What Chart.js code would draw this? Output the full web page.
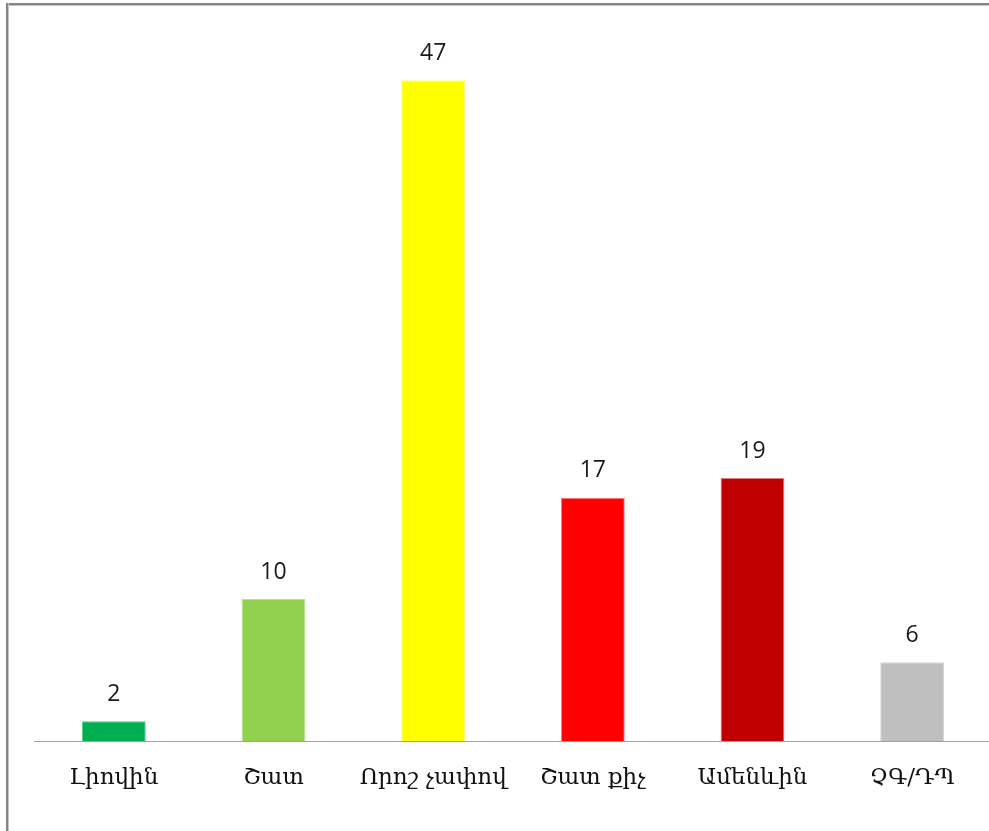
<!DOCTYPE html>
<html>
<head>
<meta charset="utf-8">
<script src="https://cdn.jsdelivr.net/npm/chart.js@4"></script>
<style>
  html, body { margin: 0; padding: 0; background: #fff; overflow: hidden; }
  #wrap { position: relative; width: 989px; height: 831px; overflow: hidden; }
  #lineTop { position: absolute; left: 6px; top: 3px; width: 990px; height: 2px; background: #858585; border-bottom: 1px solid #c4c4c4; }
  #lineLeft { position: absolute; left: 6px; top: 3px; width: 2px; height: 840px; background: #858585; border-right: 1px solid #c4c4c4; }
  #holder { position: absolute; left: 0; top: 0; width: 993px; height: 831px; }
</style>
</head>
<body>
<div id="wrap">
  <div id="holder"><canvas id="chart"></canvas></div>
  <div id="lineTop"></div>
  <div id="lineLeft"></div>
</div>
<script>
// categories and values (bar heights, labels as printed)
const categories = ["Լիովին", "Շատ", "Որոշ չափով", "Շատ քիչ", "Ամենևին", "ՉԳ/ԴՊ"];
const values = [1.4, 10.1, 47, 17.3, 18.7, 5.6];
const valueLabels = ["2", "10", "47", "17", "19", "6"];
const barColors = ["#00B050", "#92D050", "#FFFF00", "#FF0000", "#C00000", "#BFBFBF"];
const edgeColors = ["#4fcf86", "#b4e08a", "#ffff80", "#ff8080", "#e08080", "#d6d6d6"];

const valueLabelPlugin = {
    id: "valueLabels",
    afterDatasetsDraw(chart) {
        const ctx = chart.ctx;
        const meta = chart.getDatasetMeta(0);
        ctx.save();
        ctx.font = "23px 'Open Sans', sans-serif";
        ctx.fillStyle = "#1a1a1a";
        ctx.textAlign = "center";
        ctx.textBaseline = "middle";
        meta.data.forEach((bar, i) => {
            ctx.fillText(valueLabels[i], bar.x, bar.y - 27);
        });
        ctx.restore();
    }
};

const ctx = document.getElementById("chart").getContext("2d");
new Chart(ctx, {
    type: "bar",
    data: {
        labels: categories,
        datasets: [{
            data: values,
            backgroundColor: barColors,
            borderColor: edgeColors,
            borderWidth: 1,
            barPercentage: 0.4,
            categoryPercentage: 1
        }]
    },
    options: {
        responsive: true,
        maintainAspectRatio: false,
        animation: false,
        layout: { padding: { left: 34, right: 1, top: 38, bottom: 0 } },
        plugins: {
            legend: { display: false },
            tooltip: { enabled: false }
        },
        scales: {
            x: {
                grid: { display: false, drawTicks: false },
                border: { display: true, color: "#a0a0a0", width: 1 },
                ticks: {
                    color: "#111",
                    font: { family: "'DejaVu Serif', serif", size: 23 },
                    padding: 23,
                    maxRotation: 0,
                    autoSkip: false
                },
                afterFit: (scale) => { scale.height = 90; }
            },
            y: {
                display: false,
                min: 0,
                max: 50
            }
        }
    },
    plugins: [valueLabelPlugin]
});
</script>
</body>
</html>
